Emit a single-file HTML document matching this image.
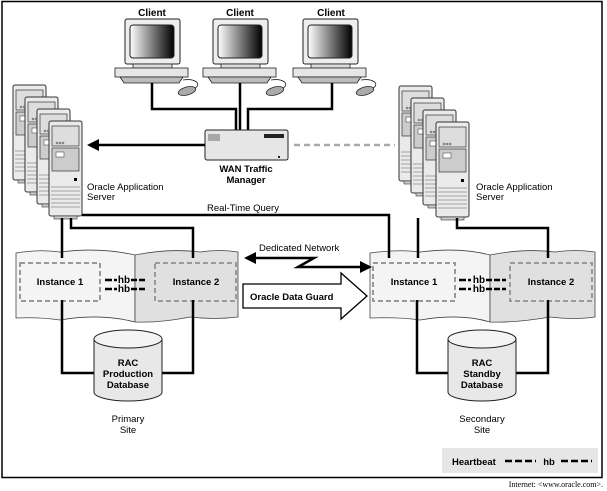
<!DOCTYPE html>
<html><head><meta charset="utf-8"><style>
html,body{margin:0;padding:0;background:#fff;width:607px;height:491px;overflow:hidden}
svg{display:block}
text{font-family:"Liberation Sans",sans-serif;fill:#000}
.b{font-weight:bold}
</style></head><body>
<svg width="607" height="491" viewBox="0 0 607 491" xmlns="http://www.w3.org/2000/svg">
<defs>
<linearGradient id="scr" x1="0" x2="1" y1="0" y2="0"><stop offset="0" stop-color="#fff"/><stop offset="1" stop-color="#000"/></linearGradient>
<g id="client">
 <rect x="125" y="19" width="55" height="45" rx="2" fill="#eee" stroke="#222"/>
 <rect x="130" y="25" width="44" height="33" rx="3" fill="url(#scr)" stroke="#222"/>
 <rect x="133" y="64" width="39" height="4" fill="#ddd" stroke="#222" stroke-width="0.8"/>
 <rect x="115" y="68" width="73" height="9" fill="#e6e6e6" stroke="#222" stroke-width="0.8"/>
 <polygon points="120,77 183,77 179,83 124,83" fill="#bbb" stroke="#222" stroke-width="0.8"/>
 <path d="M183 80 C195 78 202 84 195 88" fill="none" stroke="#222" stroke-width="0.8"/>
 <ellipse cx="187" cy="91" rx="9" ry="4" fill="#aaa" stroke="#222" stroke-width="0.8" transform="rotate(-15 187 91)"/>
</g>
<g id="tower">
 <rect x="0" y="0" width="33" height="95" rx="2" fill="#eaeaea" stroke="#333"/>
 <rect x="3" y="5" width="27" height="20" fill="#ddd" stroke="#333" stroke-width="0.7"/>
 <circle cx="8" cy="22" r="1" fill="none" stroke="#333" stroke-width="0.5"/><circle cx="11" cy="22" r="1" fill="none" stroke="#333" stroke-width="0.5"/><circle cx="14" cy="22" r="1" fill="none" stroke="#333" stroke-width="0.5"/>
 <rect x="3" y="27" width="27" height="23" fill="#ccc" stroke="#333" stroke-width="0.7"/>
 <rect x="7" y="31" width="8" height="5" fill="#fff" stroke="#333" stroke-width="0.5"/>
 <rect x="25" y="57" width="3" height="3" fill="#000"/>
 <g stroke="#888" stroke-width="0.8"><line x1="2" y1="66" x2="31" y2="66"/><line x1="2" y1="70" x2="31" y2="70"/><line x1="2" y1="74" x2="31" y2="74"/><line x1="2" y1="78" x2="31" y2="78"/><line x1="2" y1="82" x2="31" y2="82"/><line x1="2" y1="86" x2="31" y2="86"/></g>
 <rect x="5" y="95" width="23" height="3" fill="#ccc" stroke="#333" stroke-width="0.6"/>
</g>
</defs>
<rect x="2" y="1.5" width="600" height="476" fill="none" stroke="#000" stroke-width="1.5"/>

<use href="#client"/><use href="#client" x="88"/><use href="#client" x="178"/>
<text x="152" y="16" class="b" font-size="10" text-anchor="middle">Client</text>
<text x="240" y="16" class="b" font-size="10" text-anchor="middle">Client</text>
<text x="331" y="16" class="b" font-size="10" text-anchor="middle">Client</text>
<g fill="none" stroke="#000" stroke-width="2.5">
 <polyline points="152,83 152,109 236,109 236,130"/>
 <polyline points="240,83 240,130"/>
 <polyline points="332,83 332,109 248,109 248,130"/>
</g>
<rect x="205" y="130" width="83" height="30" rx="2" fill="#e6e6e6" stroke="#222"/>
<g stroke="#333" stroke-width="0.7"><line x1="209" y1="134" x2="209" y2="141"/><line x1="211" y1="134" x2="211" y2="141"/><line x1="213" y1="134" x2="213" y2="141"/><line x1="215" y1="134" x2="215" y2="141"/><line x1="217" y1="134" x2="217" y2="141"/><line x1="219" y1="134" x2="219" y2="141"/></g>
<rect x="264" y="134" width="20" height="4" fill="#222"/>
<rect x="278" y="156" width="2" height="2" fill="#222"/>
<text x="246" y="172" class="b" font-size="9.5" text-anchor="middle">WAN Traffic</text>
<text x="246" y="183" class="b" font-size="9.5" text-anchor="middle">Manager</text>
<line x1="205" y1="145" x2="98" y2="145" stroke="#000" stroke-width="2.5"/>
<polygon points="87,145 99,139 99,151" fill="#000"/>
<line x1="294" y1="145" x2="395" y2="145" stroke="#aaa" stroke-width="2.5" stroke-dasharray="6,4"/>

<use href="#tower" x="13" y="85"/><use href="#tower" x="25" y="97"/><use href="#tower" x="37" y="109"/><use href="#tower" x="49" y="121"/>
<use href="#tower" x="399" y="86"/><use href="#tower" x="411" y="98"/><use href="#tower" x="423" y="110"/><use href="#tower" x="436" y="122"/>
<text x="87" y="190" font-size="9.5">Oracle Application</text>
<text x="87" y="200" font-size="9.5">Server</text>
<text x="476" y="190" font-size="9.5">Oracle Application</text>
<text x="476" y="200" font-size="9.5">Server</text>

<!-- left cluster -->
<path d="M16 253 Q40 249 60 252 Q100 247 135 255 L135 322 Q100 313 60 320 Q40 317 16 318 Z" fill="#f4f4f4" stroke="#444" stroke-width="0.8"/>
<path d="M135 255 Q170 248 200 252 Q220 249 238 252 L238 317 Q215 320 190 317 Q160 323 135 322 Z" fill="#e0e0e0" stroke="#444" stroke-width="0.8"/>
<!-- right cluster -->
<path d="M370 253 Q400 249 420 252 Q460 247 490 255 L490 322 Q460 313 420 320 Q400 317 370 318 Z" fill="#f4f4f4" stroke="#444" stroke-width="0.8"/>
<path d="M490 255 Q525 248 555 252 Q575 249 595 252 L595 317 Q575 320 550 317 Q515 323 490 322 Z" fill="#e0e0e0" stroke="#444" stroke-width="0.8"/>
<g fill="none" stroke="#999" stroke-width="2" stroke-dasharray="5,3">
 <rect x="20" y="263" width="80" height="38"/><rect x="155" y="263" width="81" height="38"/>
 <rect x="373" y="263" width="82" height="38"/><rect x="510" y="263" width="82" height="38"/>
</g>

<g fill="none" stroke="#000" stroke-width="2.5">
 <polyline points="62,218 62,258"/>
 <polyline points="71,218 71,228 193,228 193,258"/>
 <polyline points="82,215 389,215 389,258"/>
 <polyline points="418,218 418,258"/>
 <polyline points="457,218 457,228 548,228 548,258"/>
 <polyline points="62,300 62,373 94,373"/>
 <polyline points="193,300 193,373 162,373"/>
 <polyline points="417,300 417,373 448,373"/>
 <polyline points="548,300 548,373 516,373"/>
</g>
<text x="207" y="211" font-size="9.5">Real-Time Query</text>

<text x="60" y="285" class="b" font-size="9.5" text-anchor="middle">Instance 1</text>
<text x="196" y="285" class="b" font-size="9.5" text-anchor="middle">Instance 2</text>
<g stroke="#000" stroke-width="2.5">
 <line x1="105" y1="280" x2="112" y2="280"/><line x1="114" y1="280" x2="117" y2="280"/><line x1="131" y1="280" x2="146" y2="280" stroke-dasharray="6,2"/>
 <line x1="105" y1="289" x2="112" y2="289"/><line x1="114" y1="289" x2="117" y2="289"/><line x1="131" y1="289" x2="146" y2="289" stroke-dasharray="6,2"/>
</g>
<text x="124" y="283" class="b" font-size="10" text-anchor="middle">hb</text>
<text x="124" y="292" class="b" font-size="10" text-anchor="middle">hb</text>

<text x="414" y="285" class="b" font-size="9.5" text-anchor="middle">Instance 1</text>
<text x="551" y="285" class="b" font-size="9.5" text-anchor="middle">Instance 2</text>
<g stroke="#000" stroke-width="2.5">
 <line x1="459" y1="280" x2="466" y2="280"/><line x1="468" y1="280" x2="471" y2="280"/><line x1="486" y1="280" x2="506" y2="280" stroke-dasharray="6,2"/>
 <line x1="459" y1="289" x2="466" y2="289"/><line x1="468" y1="289" x2="471" y2="289"/><line x1="486" y1="289" x2="506" y2="289" stroke-dasharray="6,2"/>
</g>
<text x="479" y="283" class="b" font-size="10" text-anchor="middle">hb</text>
<text x="479" y="292" class="b" font-size="10" text-anchor="middle">hb</text>

<text x="259" y="251" font-size="9.5">Dedicated Network</text>
<polyline points="254,258 314,258 298,267 360,267" fill="none" stroke="#000" stroke-width="2.5"/>
<polygon points="244,258 256,252 256,264" fill="#000"/>
<polygon points="372,267 360,261 360,273" fill="#000"/>
<polygon points="243,284 341,284 341,273 367,296 341,319 341,308 243,308" fill="#fff" stroke="#000" stroke-width="1.3"/>
<text x="250" y="300" class="b" font-size="9.5">Oracle Data Guard</text>

<g fill="#e8e8e8" stroke="#222" stroke-width="1">
 <path d="M94 339 L94 392 A34 9 0 0 0 162 392 L162 339"/>
 <ellipse cx="128" cy="339" rx="34" ry="9" fill="#f4f4f4"/>
 <path d="M448 339 L448 392 A34 9 0 0 0 516 392 L516 339"/>
 <ellipse cx="482" cy="339" rx="34" ry="9" fill="#f4f4f4"/>
</g>
<g font-size="9.5" text-anchor="middle">
 <text x="128" y="366" class="b">RAC</text><text x="128" y="377" class="b">Production</text><text x="128" y="388" class="b">Database</text>
 <text x="482" y="366" class="b">RAC</text><text x="482" y="377" class="b">Standby</text><text x="482" y="388" class="b">Database</text>
</g>
<g font-size="9.5" text-anchor="middle">
 <text x="128" y="422">Primary</text><text x="128" y="433">Site</text>
 <text x="482" y="422">Secondary</text><text x="482" y="433">Site</text>
</g>

<rect x="442" y="448" width="156" height="25" fill="#e6e6e6"/>
<text x="452" y="465" class="b" font-size="9.5">Heartbeat</text>
<line x1="505" y1="461" x2="536" y2="461" stroke="#000" stroke-width="2.5" stroke-dasharray="7,3"/>
<text x="549" y="465" class="b" font-size="9.5" text-anchor="middle">hb</text>
<line x1="561" y1="461" x2="592" y2="461" stroke="#000" stroke-width="2.5" stroke-dasharray="7,3"/>

<text x="603" y="487" font-size="8" text-anchor="end" style="font-family:'Liberation Serif',serif">Internet: &lt;www.oracle.com&gt;.</text>
</svg>
</body></html>
